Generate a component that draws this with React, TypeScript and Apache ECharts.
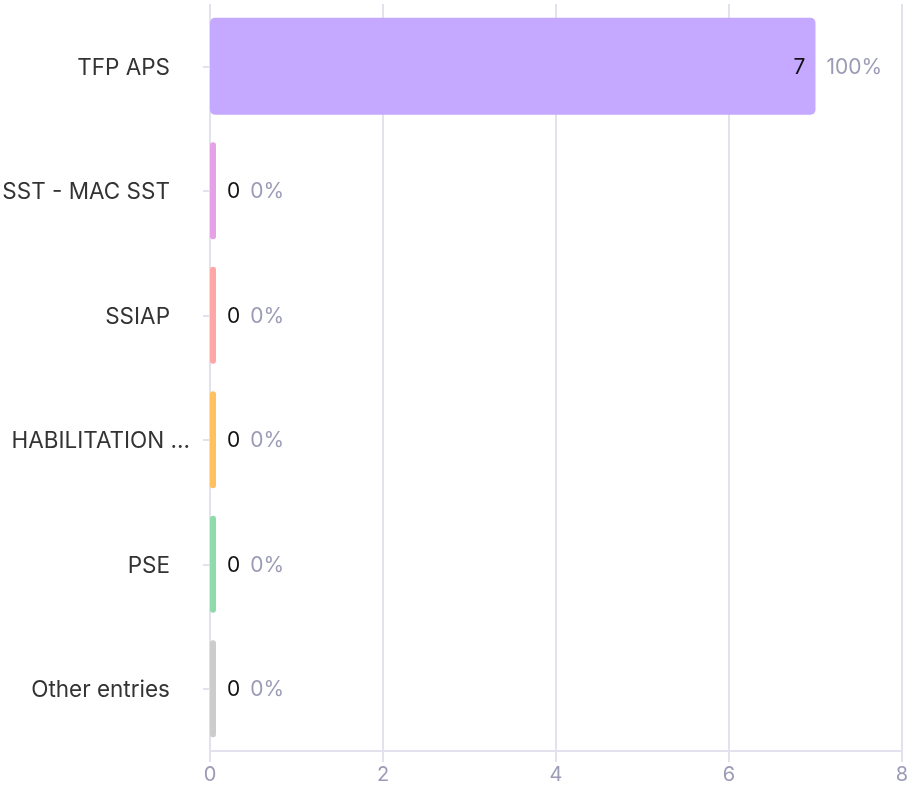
import React, { useEffect, useRef } from "react";
import * as echarts from "echarts";

const categories = ["TFP APS", "SST - MAC SST", "SSIAP", "HABILITATION ...", "PSE", "Other entries"];
const values = [7, 0, 0, 0, 0, 0];
const colors = ["#c5a8ff", "#e6a0e6", "#ffa7a7", "#ffc15e", "#8fdbab", "#cccccc"];
const xTicks = { min: 0, max: 8, interval: 2 };

export default function App() {
  const ref = useRef<HTMLDivElement>(null);
  useEffect(() => {
    if (!ref.current) return;
    const chart = echarts.init(ref.current, undefined, { renderer: "svg" });
    const total = values.reduce((a, b) => a + b, 0);
    const font = "Inter, 'Noto Sans', sans-serif";
    chart.setOption({
      animation: false,
      textStyle: { fontFamily: font },
      grid: { left: 210, right: 6, top: 4, bottom: 37, containLabel: false, outerBoundsMode: "none" },
      xAxis: {
        type: "value",
        min: xTicks.min,
        max: xTicks.max,
        interval: xTicks.interval,
        axisLine: { show: true, lineStyle: { color: "#e2e2ee", width: 2 } },
        axisTick: { show: true, length: 11, lineStyle: { color: "#e2e2ee", width: 2 } },
        splitLine: { show: true, lineStyle: { color: "#e2e2ee", width: 2 } },
        axisLabel: { color: "#9b9bb6", fontSize: 20, margin: 13, fontFamily: font },
      },
      yAxis: {
        type: "category",
        inverse: true,
        data: categories,
        offset: 5,
        axisLine: { show: false },
        axisTick: { show: true, length: 7, alignWithLabel: true, lineStyle: { color: "#e2e2ee", width: 2 } },
        axisLabel: {
          color: "#333333",
          fontSize: 22.5,
          margin: 15,
          fontFamily: font,
          formatter: (name: string) => (name.endsWith("...") ? `{t|${name}}` : `{n|${name}}`),
          rich: {
            t: { color: "#333333", fontSize: 22.5, fontFamily: font },
            n: { color: "#333333", fontSize: 22.5, fontFamily: font, padding: [0, 20, 0, 0] },
          },
        },
      },
      series: [
        {
          type: "bar",
          barWidth: "78%",
          barMinHeight: 6,
          data: values.map((v, i) => ({
            value: v,
            itemStyle: { color: colors[i], borderRadius: 5 },
            label: v > 0 ? { offset: [-33, 0] } : {},
          })),
          label: {
            show: true,
            position: "right",
            distance: 11,
            formatter: (p: any) => {
              const pct = total ? Math.round((p.value / total) * 100) : 0;
              return `{v|${p.value}}{${p.value > 0 ? "g1" : "g0"}|}{p|${pct}%}`;
            },
            rich: {
              v: { color: "#111111", fontSize: 21, fontFamily: font },
              g0: { width: 10 },
              g1: { width: 21 },
              p: { color: "#9b9bb6", fontSize: 21, fontFamily: font },
            },
          },
        },
      ],
    });
    return () => chart.dispose();
  }, []);
  return <div ref={ref} style={{ position: "fixed", left: 0, top: 0, width: 908, height: 788 }} />;
}
